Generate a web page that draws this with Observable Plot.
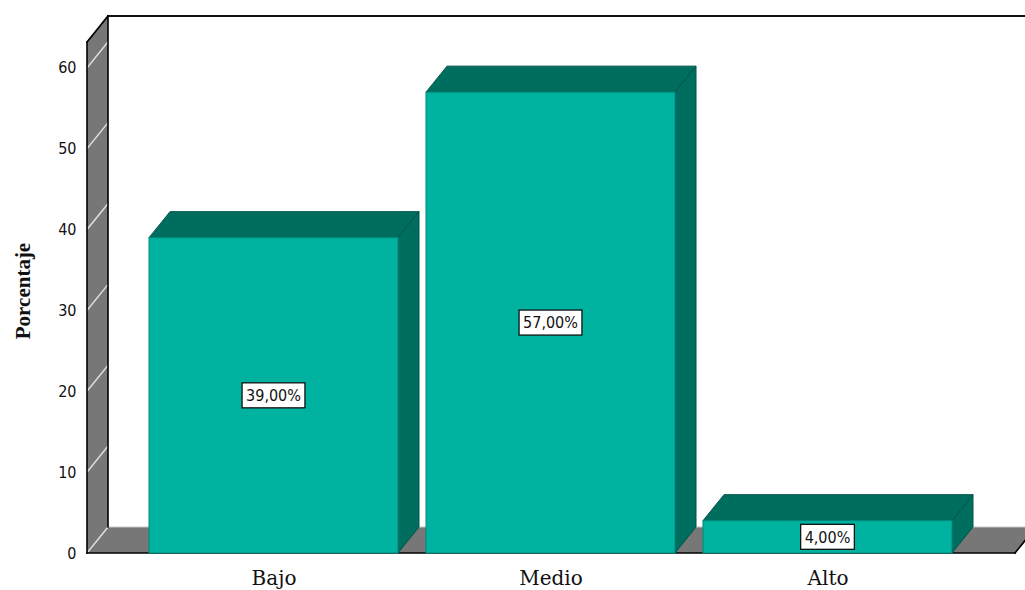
<!DOCTYPE html>
<html><head><meta charset="utf-8">
<script src="https://cdn.jsdelivr.net/npm/d3@7"></script>
<script src="https://cdn.jsdelivr.net/npm/@observablehq/plot@0.6"></script>
<style>body{margin:0;background:#fff}</style>
</head><body><div id="chart"></div>
<script>
const categories = ["Bajo", "Medio", "Alto"];
const percentages = [39, 57, 4];
const barLabels = ["39,00%", "57,00%", "4,00%"];
const yTicks = [0, 10, 20, 30, 40, 50, 60];
const yLabel = "Porcentaje";

const data = categories.map((c, i) => ({category: c, value: percentages[i], label: barLabels[i]}));

const DX = 21, DY = 26;
const C = {front: "#00b2a0", dark: "#006e5e", frontEdge: "#008a7b", darkEdge: "#005549", wall: "#777777", tick: "#dddddd"};
const sansCond = '"DejaVu Sans Condensed", "Liberation Sans Narrow", "DejaVu Sans", sans-serif';
const labelFont = '16px ' + sansCond;

function poly(g, pts, fill, stroke, sw) {
  g.append("path").attr("d", "M" + pts.map(p => p.join(",")).join("L") + "Z")
    .attr("fill", fill).attr("stroke", stroke || "none").attr("stroke-width", sw || 1).attr("stroke-linejoin", "round");
}
function seg(g, a, b, stroke, sw) {
  g.append("line").attr("x1", a[0]).attr("y1", a[1]).attr("x2", b[0]).attr("y2", b[1])
    .attr("stroke", stroke).attr("stroke-width", sw).attr("stroke-linecap", "square");
}
function bw(x) { return typeof x.bandwidth === "function" ? x.bandwidth() : x.bandwidth; }

function frameMark(index, scales, values, dims) {
  const y = scales.y;
  const L = dims.marginLeft, R = dims.width - dims.marginRight, T = dims.marginTop, y0 = y(0);
  const g = d3.create("svg:g");
  poly(g, [[L, y0], [R, y0], [R + DX, y0 - DY], [L + DX, y0 - DY]], C.wall);
  poly(g, [[L, y0], [L, T], [L + DX, T - DY], [L + DX, y0 - DY]], C.wall);
  for (const t of yTicks) seg(g, [L, y(t)], [L + DX, y(t) - DY], C.tick, 1.5);
  seg(g, [L + DX, y0 - DY], [R + DX, y0 - DY], "#c8c8c8", 1);
  seg(g, [L, T], [L + DX, T - DY], "#000", 1.6);
  seg(g, [L + DX, T - DY], [dims.width + 5, T - DY], "#111", 2);
  seg(g, [L, T], [L, y0], "#000", 1.6);
  seg(g, [L + DX, T - DY], [L + DX, y0 - DY], "#000", 1.6);
  seg(g, [L, y0], [R, y0], "#000", 1.6);
  seg(g, [R, y0], [R + DX, y0 - DY], "#000", 1.6);
  return g.node();
}

function depthMark(index, scales) {
  const {x, y} = scales; const w = bw(x);
  const g = d3.create("svg:g");
  const y0 = y(0);
  for (const d of data) {
    const xl = x(d.category), xr = xl + w, yt = y(d.value);
    poly(g, [[xl, yt], [xr, yt], [xr + DX, yt - DY], [xl + DX, yt - DY]], C.dark, C.darkEdge, 1);
    poly(g, [[xr, yt], [xr + DX, yt - DY], [xr + DX, y0 - DY], [xr, y0]], C.dark, C.darkEdge, 1);
  }
  return g.node();
}

const ctx2d = document.createElement("canvas").getContext("2d");
ctx2d.font = labelFont;
function labelMark(index, scales) {
  const {x, y} = scales; const w = bw(x);
  const g = d3.create("svg:g");
  for (const d of data) {
    const cx = x(d.category) + w / 2, cy = y(d.value / 2);
    const tw = ctx2d.measureText(d.label).width + 8, th = 25;
    g.append("rect").attr("x", cx - tw / 2).attr("y", cy - th / 2).attr("width", tw).attr("height", th)
      .attr("fill", "#fff").attr("stroke", "#111").attr("stroke-width", 1.3);
    g.append("text").attr("x", cx).attr("y", cy).attr("dy", "0.36em").attr("text-anchor", "middle")
      .style("font", labelFont).attr("fill", "#111").text(d.label);
  }
  return g.node();
}

const chart = Plot.plot({
  width: 1025,
  height: 590,
  marginLeft: 87,
  marginRight: 10,
  marginTop: 42,
  marginBottom: 37,
  style: {background: "#fff", fontFamily: sansCond, fontSize: "16px"},
  x: {domain: categories, paddingInner: 0.1, paddingOuter: 0.22, label: null},
  y: {domain: [0, 63.2], label: null},
  marks: [
    frameMark,
    depthMark,
    Plot.barY(data, {x: "category", y: "value", fill: C.front, stroke: C.frontEdge, strokeWidth: 1, inset: 0}),
    labelMark,
    Plot.axisY(yTicks, {tickSize: 0, tickPadding: 11, fontSize: 16, fontFamily: sansCond, label: null, fill: "#111"}),
    Plot.axisX({tickSize: 0, tickPadding: 17, fontSize: 20, fontFamily: '"DejaVu Serif", serif', label: null, fill: "#111"}),
    Plot.text([yLabel], {text: d => d, frameAnchor: "left", dx: -64, dy: -7, rotate: -90, textAnchor: "middle",
      fontFamily: '"Liberation Serif", serif', fontWeight: "bold", fontSize: 21, fill: "#111"})
  ]
});
document.getElementById("chart").appendChild(chart);
</script>
</body></html>
